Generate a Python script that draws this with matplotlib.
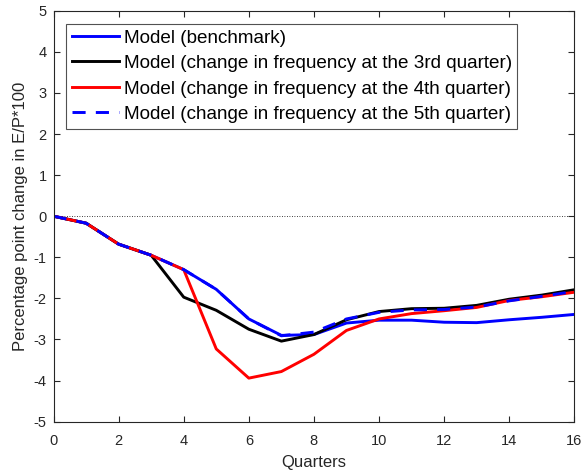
import numpy as np
import matplotlib
matplotlib.use("Agg")
import matplotlib.pyplot as plt

plt.rcParams['font.family'] = ['Liberation Sans', 'DejaVu Sans']
plt.rcParams['axes.unicode_minus'] = False

# quarters after the shock
quarters = np.arange(0, 17)

# percentage point change in E/P*100
benchmark = [0, -0.17, -0.68, -0.95, -1.3, -1.78, -2.5, -2.9, -2.88, -2.6, -2.53, -2.53, -2.58, -2.59, -2.52, -2.46, -2.39]
freq_q3 = [0, -0.17, -0.68, -0.95, -1.97, -2.29, -2.75, -3.04, -2.88, -2.52, -2.32, -2.25, -2.24, -2.17, -2.02, -1.92, -1.79]
freq_q4 = [0, -0.17, -0.68, -0.95, -1.3, -3.23, -3.94, -3.78, -3.36, -2.78, -2.5, -2.37, -2.3, -2.22, -2.05, -1.96, -1.85]
freq_q5 = [0, -0.17, -0.68, -0.95, -1.3, -1.78, -2.5, -2.91, -2.82, -2.5, -2.34, -2.28, -2.27, -2.21, -2.06, -1.95, -1.83]

labels = ["Model (benchmark)",
          "Model (change in frequency at the 3rd quarter)",
          "Model (change in frequency at the 4th quarter)",
          "Model (change in frequency at the 5th quarter)"]

fig = plt.figure(figsize=(5.83, 4.76), dpi=100)
ax = fig.add_axes([0.0918, 0.1141, 0.8933, 0.8634])

lw = 2.1
ax.plot(quarters, benchmark, color='#0000ff', lw=lw, label=labels[0])
ax.plot(quarters, freq_q3, color='black', lw=lw, label=labels[1])
ax.plot(quarters, freq_q4, color='#ff0000', lw=lw, label=labels[2])
ax.plot(quarters, freq_q5, color='#0000ff', lw=lw, ls=(0, (4.5, 3.5)), label=labels[3])
ax.axhline(0, color='black', lw=0.6, ls=(0, (1, 2)), zorder=0)

ax.set_xlim(0, 16)
ax.set_ylim(-5, 5)
ax.set_xticks(np.arange(0, 17, 2))
ax.set_yticks(np.arange(-5, 6, 1))
ax.tick_params(direction='in', top=True, right=True, labelsize=10.5, colors='#262626', length=4)
ax.tick_params(axis='x', pad=9)
ax.tick_params(axis='y', pad=5)
for s in ax.spines.values():
    s.set_color('#262626')
    s.set_linewidth(0.8)

ax.set_xlabel('Quarters', fontsize=12, color='#262626', labelpad=5)
ax.set_ylabel('Percentage point change in E/P*100', fontsize=12, color='#262626', labelpad=4)

leg = ax.legend(loc='upper left', bbox_to_anchor=(0.024, 0.9686), fontsize=13.6, frameon=True,
                fancybox=False, edgecolor='#262626', handlelength=2.5, handletextpad=0.25,
                labelspacing=0.44, borderpad=0.3, borderaxespad=0)
leg.get_frame().set_linewidth(0.8)

fig.savefig('out.png', dpi=100)
